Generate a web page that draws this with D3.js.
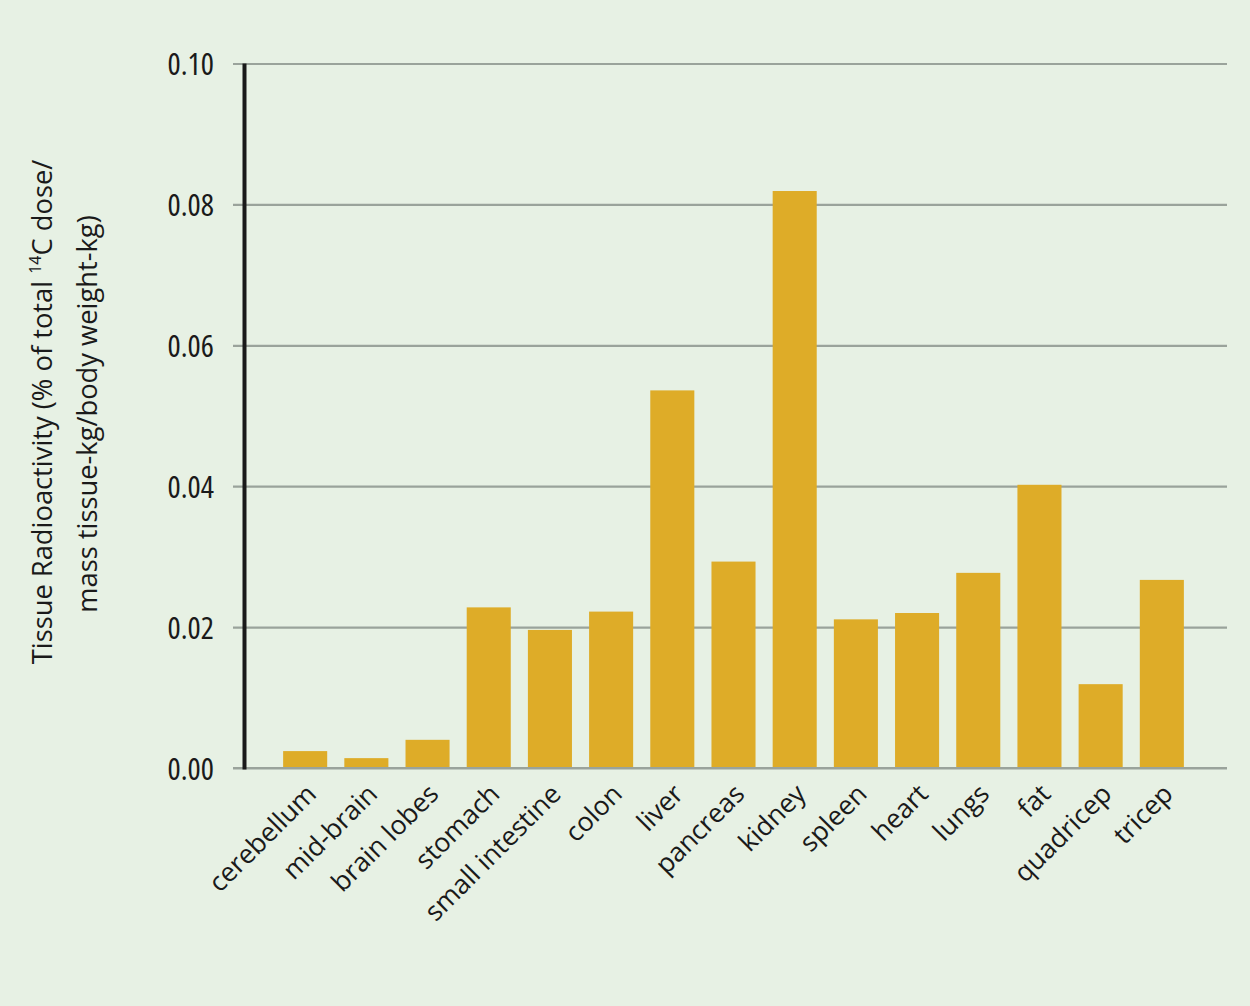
<!DOCTYPE html>
<html><head><meta charset="utf-8">
<script src="https://cdn.jsdelivr.net/npm/d3@7"></script>
<style>
html,body{margin:0;padding:0;background:#e7f1e4;}
svg{display:block;}
text{font-family:"Open Sans","DejaVu Sans",sans-serif;font-weight:500;fill:#1a1a1a;}
.tk{font-stretch:75%;}
.xl{font-stretch:88%;}
.tt{font-stretch:100%;}
</style></head><body>
<svg id="c" width="1250" height="1006"></svg>
<script>
const categories = ["cerebellum","mid-brain","brain lobes","stomach","small intestine","colon","liver","pancreas","kidney","spleen","heart","lungs","fat","quadricep","tricep"];
const values = [0.0024,0.0014,0.0040,0.0228,0.0196,0.0222,0.0536,0.0293,0.0819,0.0211,0.0220,0.0277,0.0402,0.0119,0.0267];
const yTicks = [0,0.02,0.04,0.06,0.08,0.10];
const yTitle1 = "Tissue Radioactivity (% of total ";
const yTitleSup = "14";
const yTitle1b = "C dose/";
const yTitle2 = "mass tissue-kg/body weight-kg)";

const svg = d3.select("#c");
svg.append("rect").attr("width",1250).attr("height",1006).attr("fill","#e7f1e4");

const y = d3.scaleLinear().domain([0,0.10]).range([768,63.5]);
const x = d3.scaleBand().domain(categories).range([266,1201]).paddingInner(0.28).paddingOuter(0.28);

const yAxis = d3.axisLeft(y).tickValues(yTicks).tickFormat(d3.format(".2f")).tickSize(-(1227-233)).tickPadding(19);
const gy = svg.append("g").attr("transform","translate(233,0)").call(yAxis);
gy.select(".domain").remove();
gy.selectAll(".tick line").attr("stroke","#9aa39b").attr("stroke-width",2.2);
gy.selectAll(".tick text").attr("class","tk").attr("font-size",31).attr("fill","#1a1a1a").attr("dy","0.36em");

svg.append("g").selectAll("rect").data(values).join("rect")
  .attr("x",(d,i)=>x(categories[i]))
  .attr("width",x.bandwidth())
  .attr("y",d=>y(d))
  .attr("height",d=>y(0)-y(d))
  .attr("fill","#deac28");

svg.append("line").attr("x1",233).attr("x2",1227).attr("y1",y(0)).attr("y2",y(0)).attr("stroke","#9aa39b").attr("stroke-width",2.2);

svg.append("line").attr("x1",244.5).attr("x2",244.5).attr("y1",y(0.10)).attr("y2",y(0)+1.5).attr("stroke","#1a1a1a").attr("stroke-width",4);

const xAxis = d3.axisBottom(x).tickSize(0).tickPadding(0);
const gx = svg.append("g").attr("transform",`translate(0,${y(0)})`).call(xAxis);
gx.select(".domain").remove();
gx.selectAll(".tick text")
  .attr("class","xl")
  .attr("font-size",26.5)
  .attr("fill","#1a1a1a")
  .attr("text-anchor","end")
  .attr("transform","translate(7,22) rotate(-45)")
  .attr("dy","0.3em")
  .attr("y",0);

const t1 = svg.append("text").attr("class","tt").attr("transform","translate(52,412) rotate(-90)").attr("text-anchor","middle").attr("font-size",27.3);
t1.append("tspan").text(yTitle1);
t1.append("tspan").text(yTitleSup).attr("font-size",16).attr("dy","-0.7em");
t1.append("tspan").text(yTitle1b).attr("dy","0.42em");
svg.append("text").attr("class","tt").attr("transform","translate(97,414) rotate(-90)").attr("text-anchor","middle").attr("font-size",27.3).text(yTitle2);
</script>
</body></html>
